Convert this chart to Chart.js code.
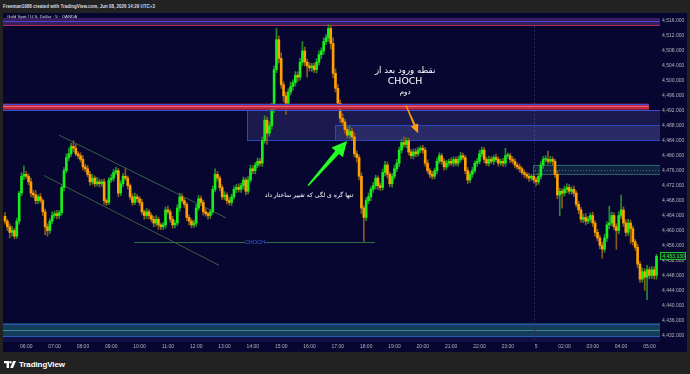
<!DOCTYPE html>
<html>
<head>
<meta charset="utf-8">
<script src="https://cdn.jsdelivr.net/npm/chart.js@4.4.1/dist/chart.umd.min.js"></script>
<style>
    html, body { margin: 0; padding: 0; width: 690px; height: 374px; overflow: hidden; background: #222222; font-family: 'Liberation Sans', Arial, sans-serif; }
    #head { position: absolute; left: 3px; top: 3.5px; font-size: 4.5px; font-weight: bold; color: #d8dae0; white-space: nowrap; }
    #wrap { position: absolute; left: 3px; top: 13px; width: 684px; height: 339px; background: #060630; }
    #legend { position: absolute; left: 7px; top: 14px; font-size: 4.4px; color: #d6d6e6; white-space: nowrap; }
    #logo { position: absolute; left: 4px; top: 359px; height: 10px; display: flex; align-items: center; color: #ffffff; font-size: 8px; font-weight: bold; letter-spacing: -0.1px; }
    #logo svg { margin-right: 3px; }
</style>
</head>
<body>
<div id="head">Freeman1988 created with TradingView.com, Jun 08, 2026 14:29 UTC+3</div>
<div id="wrap"><canvas id="chart" width="684" height="339"></canvas></div>
<div id="legend">Gold Spot / U.S. Dollar · 5 · OANDA</div>
<div id="logo">
    <svg width="12" height="7" viewBox="0 0 12 7"><path d="M0 0h5v7H2.6V2.3H0z" fill="#fff"/><circle cx="6.4" cy="1.2" r="1.2" fill="#fff"/><path d="M9 0h3l-3 7H6.2z" fill="#fff"/></svg>
    TradingView
</div>
<script>
// 5 minute candles, first one 05:15 ; open = previous close
const firstOpen = 4463.8;
const closes = [
    4462.5, 4461.0, 4459.5, 4460.0, 4458.5, 4462.5, 4470.0, 4474.5, 4475.0, 4474.5, 4473.0, 4470.0,
    4469.5, 4468.0, 4469.0, 4468.0, 4465.0, 4461.0, 4460.0, 4462.5, 4464.0, 4464.5, 4464.0, 4464.8,
    4471.5, 4476.0, 4479.5, 4480.5, 4482.5, 4482.0, 4480.5, 4480.0, 4479.0, 4477.0, 4476.5, 4475.0,
    4473.0, 4474.0, 4472.5, 4473.0, 4472.5, 4473.0, 4468.0, 4467.5, 4473.5, 4474.0, 4475.5, 4476.0,
    4470.0, 4472.5, 4474.5, 4474.0, 4472.0, 4469.0, 4467.5, 4469.0, 4468.5, 4467.5, 4465.0, 4464.0,
    4465.0, 4464.0, 4463.0, 4462.0, 4463.0, 4461.5, 4461.0, 4461.5, 4465.5, 4465.0, 4463.0, 4461.5,
    4462.0, 4466.0, 4469.0, 4468.0, 4467.0, 4463.5, 4462.5, 4461.5, 4462.0, 4466.0, 4468.5, 4467.5,
    4465.0, 4464.5, 4464.0, 4465.0, 4471.0, 4475.0, 4474.0, 4471.5, 4469.0, 4469.5, 4468.0, 4467.5,
    4469.0, 4471.0, 4471.5, 4471.0, 4472.0, 4473.5, 4470.5, 4473.5, 4476.5, 4476.0, 4477.5, 4478.5,
    4478.0, 4484.0, 4489.5, 4486.0, 4488.0, 4492.5, 4503.0, 4511.0, 4506.0, 4499.0, 4496.0, 4494.0,
    4497.0, 4498.5, 4499.5, 4501.5, 4501.0, 4505.0, 4508.0, 4505.0, 4504.0, 4503.5, 4504.0, 4503.0,
    4505.0, 4507.0, 4508.0, 4510.5, 4511.5, 4514.0, 4510.0, 4502.0, 4498.0, 4494.0, 4490.0, 4489.0,
    4487.0, 4485.5, 4486.5, 4485.0, 4480.5, 4479.5, 4474.5, 4466.0, 4463.5, 4468.0, 4469.0, 4471.0,
    4472.0, 4474.0, 4472.0, 4471.5, 4475.5, 4477.5, 4475.0, 4472.5, 4474.5, 4476.5, 4478.0, 4481.5,
    4483.5, 4483.0, 4484.0, 4481.0, 4480.0, 4481.0, 4480.5, 4481.5, 4482.0, 4481.5, 4478.0, 4476.0,
    4475.0, 4474.5, 4476.0, 4478.5, 4480.0, 4478.5, 4477.0, 4478.0, 4478.5, 4478.0, 4479.0, 4478.0,
    4479.0, 4480.0, 4479.5, 4476.0, 4473.5, 4475.0, 4476.0, 4478.0, 4478.5, 4480.5, 4481.5, 4479.0,
    4478.0, 4479.0, 4478.5, 4479.5, 4479.0, 4478.0, 4478.5, 4478.0, 4480.0, 4480.0, 4479.0, 4478.5,
    4477.5, 4477.0, 4476.5, 4475.5, 4475.0, 4474.5, 4474.0, 4474.5, 4473.5, 4473.0, 4474.5, 4477.5,
    4479.0, 4479.0, 4478.5, 4479.0, 4478.5, 4475.0, 4469.5, 4470.5, 4470.0, 4471.0, 4471.5, 4470.5,
    4471.0, 4470.0, 4467.0, 4465.5, 4463.0, 4463.5, 4462.5, 4463.0, 4464.0, 4462.0, 4459.5, 4458.0,
    4456.0, 4455.0, 4458.0, 4461.5, 4462.0, 4464.0, 4461.0, 4460.0, 4464.0, 4465.5, 4462.0, 4459.5,
    4462.0, 4460.5, 4457.0, 4455.5, 4451.0, 4447.0, 4449.0, 4447.5, 4449.5, 4448.0, 4449.5, 4448.0,
    4453.13
];
// wick length above / below the body
const wickUp = [
    1.0, 0.5, 0.8, 1.2, 0.6, 0.8, 0.5, 1.0, 2.3, 0.8, 0.6, 1.0,
    0.8, 1.2, 0.6, 0.9, 0.5, 0.7, 0.8, 0.6, 1.0, 0.7, 0.9, 0.6,
    0.5, 0.8, 1.0, 1.5, 0.8, 1.5, 1.0, 0.6, 0.8, 1.0, 0.7, 0.9,
    0.8, 1.0, 0.6, 1.2, 0.8, 0.6, 0.8, 0.5, 0.7, 1.0, 0.8, 0.9,
    0.6, 0.8, 0.7, 2.0, 0.6, 0.5, 0.8, 1.0, 0.7, 0.6, 0.8, 0.5,
    0.9, 0.6, 0.7, 0.8, 1.0, 0.6, 0.5, 0.7, 0.8, 1.0, 0.6, 0.8,
    0.7, 0.9, 1.0, 0.8, 0.6, 0.5, 0.7, 0.6, 0.8, 1.0, 0.9, 0.7,
    0.6, 0.8, 0.5, 0.7, 0.9, 1.5, 0.8, 0.6, 0.7, 0.9, 0.6, 0.8,
    0.7, 0.9, 0.8, 1.0, 0.7, 0.8, 0.6, 0.9, 1.0, 0.8, 0.7, 0.9,
    0.8, 1.0, 1.2, 0.8, 1.0, 1.5, 1.0, 3.0, 1.0, 1.5, 0.8, 1.0,
    0.9, 1.2, 0.8, 1.0, 0.9, 1.0, 2.5, 1.0, 0.8, 0.9, 0.7, 0.8,
    0.9, 1.0, 0.8, 1.0, 0.9, 1.0, 0.8, 1.5, 1.2, 1.0, 0.9, 1.2,
    0.8, 0.7, 1.5, 0.9, 1.0, 0.8, 0.7, 0.9, 0.6, 0.8, 1.0, 0.7,
    0.9, 0.8, 0.6, 0.7, 0.9, 1.0, 0.8, 0.6, 0.7, 0.9, 1.0, 0.8,
    0.9, 1.5, 0.8, 0.7, 0.6, 0.8, 0.9, 0.7, 0.6, 0.8, 0.7, 0.9,
    0.6, 0.8, 0.7, 0.9, 0.8, 0.6, 0.7, 0.8, 0.6, 0.9, 0.7, 0.6,
    0.8, 0.9, 0.7, 0.6, 0.8, 0.7, 0.9, 0.6, 0.8, 1.0, 0.8, 0.7,
    0.6, 0.8, 0.7, 0.6, 0.9, 0.7, 0.6, 0.8, 2.0, 0.7, 0.6, 0.8,
    0.7, 0.6, 0.8, 0.5, 0.7, 0.6, 0.8, 0.5, 0.6, 0.7, 0.8, 0.9,
    0.8, 1.0, 2.2, 0.8, 0.7, 0.6, 0.9, 0.8, 0.7, 0.9, 1.0, 0.8,
    0.7, 0.9, 0.6, 0.8, 0.7, 0.9, 1.0, 0.8, 0.7, 0.9, 0.6, 0.8,
    0.7, 0.9, 1.0, 0.8, 4.5, 0.9, 0.7, 0.8, 1.0, 4.0, 0.8, 0.9,
    1.0, 0.8, 0.7, 0.6, 0.8, 0.7, 1.0, 0.8, 1.2, 0.7, 0.9, 0.8,
    0.5
];
const wickDn = [
    0.8, 1.0, 1.5, 1.0, 0.7, 0.6, 0.8, 0.7, 0.9, 0.6, 0.8, 1.0,
    0.7, 0.9, 0.8, 0.6, 1.0, 2.1, 1.5, 0.8, 0.7, 0.6, 0.9, 0.8,
    0.7, 0.9, 0.6, 0.8, 0.7, 0.9, 0.6, 0.8, 0.7, 0.9, 0.8, 0.6,
    0.9, 0.7, 0.8, 0.6, 0.9, 0.7, 1.0, 0.8, 0.6, 0.7, 0.8, 0.6,
    1.0, 0.7, 0.8, 0.6, 0.9, 0.7, 0.8, 0.6, 0.9, 0.8, 0.7, 1.0,
    0.8, 0.9, 0.7, 1.0, 0.8, 1.2, 0.8, 0.7, 0.9, 0.6, 0.8, 0.9,
    0.8, 0.7, 0.9, 0.6, 0.8, 0.9, 1.0, 0.8, 0.7, 0.9, 0.6, 0.8,
    0.9, 0.7, 1.0, 0.8, 0.6, 0.7, 0.8, 0.9, 0.7, 0.8, 0.9, 0.7,
    0.8, 0.6, 0.9, 0.7, 0.8, 0.9, 1.0, 0.7, 0.6, 0.8, 0.9, 0.7,
    0.8, 0.9, 0.7, 3.0, 0.8, 0.9, 1.0, 0.8, 1.2, 1.0, 1.5, 3.0,
    0.9, 0.8, 1.0, 0.9, 1.2, 0.8, 0.9, 1.0, 3.0, 0.9, 1.0, 0.8,
    0.9, 0.8, 1.0, 0.9, 0.8, 1.0, 1.5, 1.2, 1.0, 1.5, 1.2, 0.9,
    1.0, 0.8, 0.9, 1.0, 0.8, 1.2, 1.0, 1.5, 6.4, 0.9, 0.8, 1.0,
    0.8, 0.9, 1.0, 0.8, 0.7, 0.9, 1.0, 0.8, 0.9, 0.7, 0.8, 0.9,
    0.8, 0.7, 0.9, 0.8, 0.7, 0.9, 0.8, 0.6, 0.7, 0.9, 0.8, 0.7,
    0.9, 0.8, 0.7, 0.9, 0.6, 0.8, 0.9, 0.7, 0.8, 0.6, 0.9, 0.7,
    0.8, 0.7, 0.6, 0.8, 1.0, 0.7, 0.8, 0.6, 0.9, 0.7, 0.8, 0.9,
    0.7, 0.8, 0.6, 0.9, 0.7, 0.8, 0.6, 0.9, 0.8, 0.7, 0.9, 0.6,
    0.8, 0.7, 0.9, 0.6, 0.8, 0.7, 0.9, 0.6, 0.8, 1.0, 0.7, 0.8,
    0.9, 0.7, 0.8, 0.6, 0.9, 0.8, 1.0, 5.5, 4.0, 0.8, 0.9, 0.7,
    0.8, 0.9, 0.7, 1.0, 0.8, 0.9, 1.0, 0.7, 0.8, 0.9, 1.0, 0.8,
    0.9, 2.4, 0.8, 0.9, 1.0, 0.7, 0.8, 5.0, 0.9, 0.8, 0.9, 1.0,
    0.8, 4.0, 0.9, 0.8, 1.0, 0.9, 0.8, 3.5, 6.0, 0.9, 0.8, 1.0,
    1.0
];

const hourLabels = ['06:00', '07:00', '08:00', '09:00', '10:00', '11:00', '12:00', '13:00', '14:00', '15:00', '16:00', '17:00',
    '18:00', '19:00', '20:00', '21:00', '22:00', '23:00', '5', '02:00', '03:00', '04:00', '05:00'];
const firstHourBar = 9;
const barsPerHour = 12;
const lastPrice = 4453.13;

// drawings, in (bar index, price)
const purpleZone = [4516.8, 4514.7];
const redZone = [4493.9, 4492.3, 272.8];
const box1 = [102.5, 4492.2, 4484.2];
const box2 = [139.8, 4488.1, 4484.2];
const tealBox = [223.7, 4477.6, 4475.1, 4476.3];
const bottomZone = [4435.3, 4431.8];
const sessionBreak = 224.2;
const channelUpper = [[22.9, 4485.5], [93.6, 4463.4]];
const channelLower = [[16.5, 4474.7], [90.7, 4450.7]];
const chochLine = [54.7, 156.7, 4457.05, 105.9];
const greenArrow = [[128.4, 4472.05], [144.9, 4483.9]];
const orangeArrow = [[169.9, 4493.4], [175.0, 4486.0]];

const opens = closes.map((c, i) => (i === 0 ? firstOpen : closes[i - 1]));
const bodyData = closes.map((c, i) => ({ x: i, y: [opens[i], c] }));
const wickData = closes.map((c, i) => ({
    x: i,
    y: [Math.min(opens[i], c) - wickDn[i], Math.max(opens[i], c) + wickUp[i]]
}));
const isUp = closes.map((c, i) => c >= opens[i]);

function drawArrow(ctx, x1, y1, x2, y2, tailW, baseW, headW, headL, color) {
    const ang = Math.atan2(y2 - y1, x2 - x1);
    const len = Math.hypot(x2 - x1, y2 - y1);
    ctx.save();
    ctx.translate(x1, y1);
    ctx.rotate(ang);
    ctx.fillStyle = color;
    ctx.beginPath();
    ctx.moveTo(0, -tailW / 2);
    ctx.lineTo(len - headL, -baseW / 2);
    ctx.lineTo(len - headL, -headW / 2);
    ctx.lineTo(len, 0);
    ctx.lineTo(len - headL, headW / 2);
    ctx.lineTo(len - headL, baseW / 2);
    ctx.lineTo(0, tailW / 2);
    ctx.closePath();
    ctx.fill();
    ctx.restore();
}

const drawings = {
    id: 'drawings',
    beforeDatasetsDraw(chart) {
        const { ctx, chartArea: a, scales: { x, y } } = chart;
        ctx.save();
        ctx.beginPath();
        ctx.rect(a.left, a.top, a.right - a.left, a.bottom - a.top);
        ctx.clip();

        // bottom zone
        const bt = y.getPixelForValue(bottomZone[0]), bb = y.getPixelForValue(bottomZone[1]);
        ctx.fillStyle = '#101044';
        ctx.fillRect(a.left, bb, a.right - a.left, a.bottom - bb);
        ctx.fillStyle = '#143d5c';
        ctx.fillRect(a.left, bt, a.right - a.left, bb - bt);
        [[bt + 1.5, '#2a58b4'], [bt + 7.5, '#3f8a86'], [bb - 0.5, '#2a58b4']].forEach(([yy, col]) => {
            ctx.fillStyle = col;
            ctx.fillRect(a.left, Math.round(yy), a.right - a.left, 1);
        });

        // top purple zone
        const pt = y.getPixelForValue(purpleZone[0]), pb = y.getPixelForValue(purpleZone[1]);
        ctx.fillStyle = '#3a1d5c';
        ctx.fillRect(a.left, pt, a.right - a.left, pb - pt);
        ctx.fillStyle = '#4848d8';
        ctx.fillRect(a.left, Math.round(y.getPixelForValue(4516)), a.right - a.left, 1);
        ctx.fillStyle = '#a83048';
        ctx.fillRect(a.left, Math.round(pb) - 1, a.right - a.left, 1);

        // session break
        ctx.strokeStyle = '#2a2a60';
        ctx.lineWidth = 1;
        ctx.setLineDash([2, 2]);
        const sx = Math.round(x.getPixelForValue(sessionBreak)) + 0.5;
        ctx.beginPath();
        ctx.moveTo(sx, a.top);
        ctx.lineTo(sx, a.bottom);
        ctx.stroke();
        ctx.setLineDash([]);

        // supply boxes
        [box1, box2].forEach(([i0, p1, p2]) => {
            const bx = x.getPixelForValue(i0), by1 = y.getPixelForValue(p1), by2 = y.getPixelForValue(p2);
            ctx.fillStyle = 'rgba(100, 100, 185, 0.22)';
            ctx.fillRect(bx, by1, a.right - bx, by2 - by1);
            ctx.strokeStyle = '#2b48c0';
            ctx.strokeRect(Math.round(bx) + 0.5, Math.round(by1) + 0.5, a.right - bx, Math.round(by2 - by1));
        });

        // teal box
        const tx = x.getPixelForValue(tealBox[0]);
        const ty1 = y.getPixelForValue(tealBox[1]), ty2 = y.getPixelForValue(tealBox[2]);
        ctx.fillStyle = 'rgba(40, 110, 100, 0.28)';
        ctx.fillRect(tx, ty1, a.right - tx, ty2 - ty1);
        ctx.strokeStyle = '#2f5f62';
        ctx.strokeRect(Math.round(tx) + 0.5, Math.round(ty1) + 0.5, a.right - tx, Math.round(ty2 - ty1));
        ctx.strokeStyle = '#4b6f96';
        ctx.setLineDash([1, 2]);
        const tm = Math.round(y.getPixelForValue(tealBox[3])) + 0.5;
        ctx.beginPath();
        ctx.moveTo(tx + 2, tm);
        ctx.lineTo(a.right, tm);
        ctx.stroke();
        ctx.setLineDash([]);

        // channel
        ctx.strokeStyle = '#3d6a4c';
        ctx.lineWidth = 0.9;
        [channelUpper, channelLower].forEach(([p, q]) => {
            ctx.beginPath();
            ctx.moveTo(x.getPixelForValue(p[0]), y.getPixelForValue(p[1]));
            ctx.lineTo(x.getPixelForValue(q[0]), y.getPixelForValue(q[1]));
            ctx.stroke();
        });

        // CHOCH line
        const cy = Math.round(y.getPixelForValue(chochLine[2])) + 0.5;
        const cx0 = x.getPixelForValue(chochLine[0]), cx1 = x.getPixelForValue(chochLine[1]);
        const cl = x.getPixelForValue(chochLine[3]);
        ctx.strokeStyle = '#2f7040';
        ctx.lineWidth = 1;
        ctx.beginPath();
        ctx.moveTo(cx0, cy); ctx.lineTo(cl - 10, cy);
        ctx.moveTo(cl + 10, cy); ctx.lineTo(cx1, cy);
        ctx.stroke();
        ctx.fillStyle = '#3a5fe0';
        ctx.font = '5.5px "Liberation Sans"';
        ctx.textAlign = 'center';
        ctx.textBaseline = 'middle';
        ctx.fillText('CHOCH', cl, cy);
        ctx.restore();
    },
    afterDatasetsDraw(chart) {
        const { ctx, chartArea: a, scales: { x, y } } = chart;
        ctx.save();

        // red zone on top of the candles
        const rt = y.getPixelForValue(redZone[0]), rb = y.getPixelForValue(redZone[1]);
        const rx = x.getPixelForValue(redZone[2]);
        ctx.fillStyle = '#c02a40';
        ctx.fillRect(a.left, rt, rx - a.left, rb - rt);
        ctx.fillStyle = '#e8607e';
        ctx.fillRect(a.left, Math.round((rt + rb) / 2) - 1, rx - a.left, 1);
        ctx.fillStyle = '#3b4fd4';
        ctx.fillRect(a.left, Math.round(rt), rx - a.left, 1);
        ctx.fillRect(a.left, Math.round(rb), a.right - a.left, 1);

        // arrows
        const gp = greenArrow.map(([i, p]) => [x.getPixelForValue(i), y.getPixelForValue(p)]);
        drawArrow(ctx, gp[0][0], gp[0][1], gp[1][0], gp[1][1], 1.5, 5, 15, 15, '#22ff22');
        const op = orangeArrow.map(([i, p]) => [x.getPixelForValue(i), y.getPixelForValue(p)]);
        drawArrow(ctx, op[0][0], op[0][1], op[1][0], op[1][1], 1.2, 2.2, 8, 9, '#ff9a10');

        // texts
        ctx.fillStyle = '#ffffff';
        ctx.textAlign = 'center';
        ctx.textBaseline = 'middle';
        ctx.direction = 'rtl';
        const tx = x.getPixelForValue(169.5);
        ctx.font = '8.6px "DejaVu Sans"';
        ctx.fillText('نقطه ورود بعد از', tx, y.getPixelForValue(4502.6));
        ctx.font = '9.4px "DejaVu Sans"';
        ctx.fillText('CHOCH', tx, y.getPixelForValue(4499.8));
        ctx.font = '7px "DejaVu Sans"';
        ctx.fillText('دوم', tx, y.getPixelForValue(4496.9));
        ctx.font = '6.1px "DejaVu Sans"';
        ctx.fillText('تنها گره ی لگی که تغییر ساختار داد', x.getPixelForValue(128.8), y.getPixelForValue(4469.4));
        ctx.restore();
    },
    afterDraw(chart) {
        const { ctx, chartArea: a, scales: { y } } = chart;
        const ly = Math.round(y.getPixelForValue(lastPrice));
        ctx.save();
        ctx.fillStyle = '#07251a';
        ctx.fillRect(a.right, ly - 4, 26, 8);
        ctx.strokeStyle = '#22c032';
        ctx.lineWidth = 1;
        ctx.strokeRect(a.right + 0.5, ly - 3.5, 25, 7);
        ctx.fillStyle = '#3cf04a';
        ctx.font = '5px "Liberation Sans"';
        ctx.textAlign = 'left';
        ctx.textBaseline = 'middle';
        ctx.fillText('4,453.130', a.right + 2.5, ly + 0.5);
        ctx.restore();
    }
};

new Chart(document.getElementById('chart'), {
    type: 'bar',
    data: {
        datasets: [{
            label: 'body',
            data: bodyData,
            backgroundColor: isUp.map((u) => (u ? '#16f016' : '#ffa000')),
            barThickness: 2,
            minBarLength: 1,
            grouped: false,
            order: 1
        }, {
            label: 'wick',
            data: wickData,
            backgroundColor: isUp.map((u) => (u ? '#2a8a2e' : '#8a5a1c')),
            barThickness: 1,
            grouped: false,
            order: 2
        }]
    },
    options: {
        responsive: false,
        animation: false,
        devicePixelRatio: 1,
        layout: { padding: 0 },
        plugins: { legend: { display: false }, tooltip: { enabled: false } },
        scales: {
            x: {
                type: 'linear',
                offset: false,
                min: -0.85,
                max: 277.48,
                grid: { display: false, drawTicks: false, offset: false },
                border: { display: false },
                afterBuildTicks(scale) {
                    scale.ticks = hourLabels.map((l, k) => ({ value: firstHourBar + k * barsPerHour }));
                },
                afterFit(scale) { scale.height = 10; },
                ticks: {
                    autoSkip: false,
                    maxRotation: 0,
                    padding: 2,
                    color: '#b2b5be',
                    font: { family: 'Liberation Sans', size: 5 },
                    callback(value) {
                        return hourLabels[Math.round((value - firstHourBar) / barsPerHour)] || '';
                    }
                }
            },
            y: {
                position: 'right',
                min: 4430.2,
                max: 4516.8,
                grid: { display: false, drawTicks: false },
                border: { display: false },
                afterFit(scale) { scale.width = 27; },
                ticks: {
                    stepSize: 4,
                    includeBounds: false,
                    padding: 2,
                    color: '#b2b5be',
                    font: { family: 'Liberation Sans', size: 5 },
                    callback(value) {
                        return value.toLocaleString('en-US', { minimumFractionDigits: 3, maximumFractionDigits: 3 });
                    }
                }
            }
        }
    },
    plugins: [drawings]
});
</script>
</body>
</html>
